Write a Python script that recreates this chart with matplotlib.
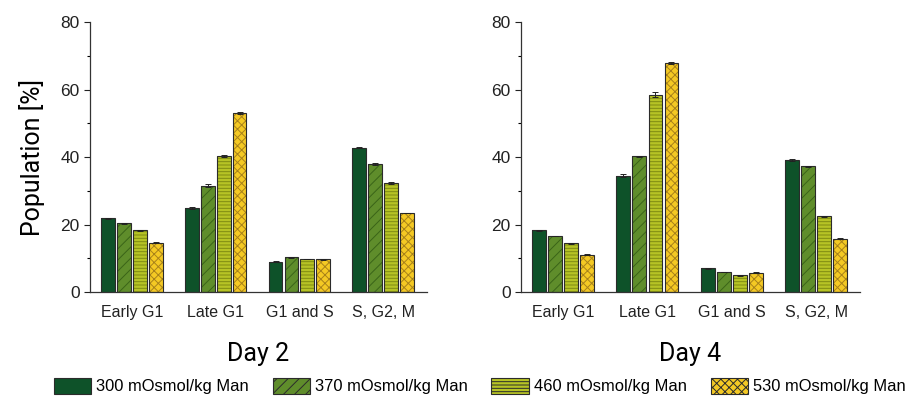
import numpy as np
import matplotlib
matplotlib.use('Agg')
import matplotlib.pyplot as plt
from matplotlib.patches import Patch
from matplotlib.ticker import MultipleLocator

plt.rcParams['font.family'] = ['Liberation Sans', 'DejaVu Sans']
plt.rcParams['hatch.linewidth'] = 0.7

# data
phases = ['Early G1', 'Late G1', 'G1 and S', 'S, G2, M']
conditions = ['300 mOsmol/kg Man', '370 mOsmol/kg Man',
              '460 mOsmol/kg Man', '530 mOsmol/kg Man']
day2 = [
    [21.8, 24.8, 9.0, 42.8],
    [20.4, 31.5, 10.3, 38.0],
    [18.3, 40.4, 9.8, 32.3],
    [14.6, 53.2, 9.7, 23.4],
]
day2_err = [
    [0.2, 0.3, 0.1, 0.2],
    [0.2, 0.4, 0.1, 0.2],
    [0.2, 0.3, 0.1, 0.2],
    [0.1, 0.3, 0.2, 0.1],
]
day4 = [
    [18.3, 34.5, 7.0, 39.1],
    [16.6, 40.2, 5.9, 37.3],
    [14.4, 58.5, 4.9, 22.4],
    [11.1, 67.9, 5.7, 15.8],
]
day4_err = [
    [0.2, 0.4, 0.1, 0.3],
    [0.1, 0.2, 0.1, 0.2],
    [0.2, 0.8, 0.1, 0.2],
    [0.1, 0.3, 0.1, 0.2],
]

colors = ['#0e5229', '#5f8d2b', '#b6c325', '#f4c924']
hatch_colors = ['#0e5229', '#3a6418', '#7f8a12', '#a8821a']
hatches = ['', '///', '-----', 'xxxx']

fig = plt.figure(figsize=(9.1, 3.98), dpi=100)
ax1 = fig.add_axes([0.0989, 0.2663, 0.370, 0.678])
ax2 = fig.add_axes([0.5725, 0.2663, 0.3725, 0.678])

x = np.arange(len(phases))
step = 0.19
width = 0.165


def draw_panel(ax, values, errors, title):
    for i in range(len(conditions)):
        pos = x + (i - 1.5) * step
        ax.bar(pos, values[i], width, color=colors[i], edgecolor=hatch_colors[i],
               hatch=hatches[i], linewidth=0, zorder=2)
        ax.bar(pos, values[i], width, fill=False, edgecolor='#2b2b2b',
               linewidth=0.8, zorder=3)
        ax.errorbar(pos, values[i], yerr=errors[i], fmt='none', ecolor='#222222',
                    elinewidth=0.7, capsize=2, capthick=0.7, zorder=4)
    ax.set_xlim(-0.5, 3.52)
    ax.set_ylim(0, 80)
    ax.set_xticks(x)
    ax.set_xticklabels(phases, fontsize=11.5)
    ax.tick_params(axis='x', length=0, pad=9, colors='#222222')
    ax.yaxis.set_major_locator(MultipleLocator(20))
    ax.yaxis.set_minor_locator(MultipleLocator(10))
    ax.tick_params(axis='y', which='major', length=4, width=0.8, labelsize=12.5,
                   colors='#222222')
    ax.tick_params(axis='y', which='minor', length=2, width=0.8)
    for side in ['top', 'right']:
        ax.spines[side].set_visible(False)
    for side in ['left', 'bottom']:
        ax.spines[side].set_linewidth(0.9)
        ax.spines[side].set_color('#333333')
    ax.text(0.5, -0.23, title, transform=ax.transAxes, ha='center', va='center',
            fontsize=18, family=['Roboto', 'DejaVu Sans'])


draw_panel(ax1, day2, day2_err, 'Day 2')
draw_panel(ax2, day4, day4_err, 'Day 4')
ax1.set_ylabel('Population [%]', fontsize=18, family=['Roboto', 'DejaVu Sans'],
               labelpad=11)

handles = [Patch(facecolor=colors[i], edgecolor='#2b2b2b', hatch=hatches[i],
                 linewidth=0.8) for i in range(len(conditions))]
fig.legend(handles, conditions, loc='center', bbox_to_anchor=(0.527, 0.03),
           ncol=4, frameon=False, fontsize=11.9, handlelength=2.25,
           handleheight=1.1, handletextpad=0.3, columnspacing=1.45)

fig.savefig('out.png', dpi=100)
